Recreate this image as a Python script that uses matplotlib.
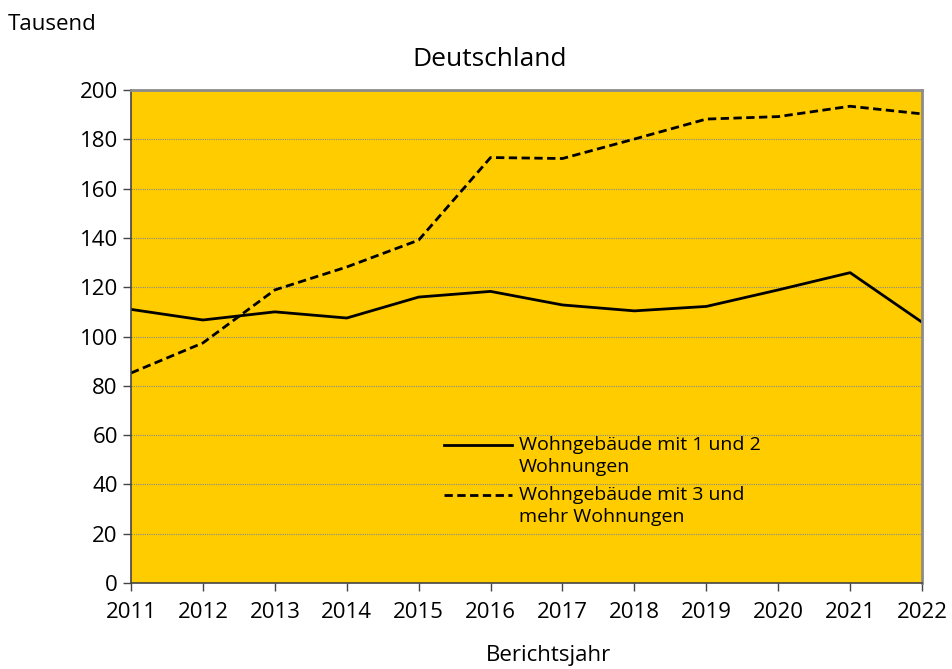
import matplotlib
matplotlib.use("Agg")
import matplotlib.pyplot as plt
from matplotlib.lines import Line2D

plt.rcParams["font.family"] = ["Open Sans", "DejaVu Sans"]

years = [2011, 2012, 2013, 2014, 2015, 2016, 2017, 2018, 2019, 2020, 2021, 2022]
ein_zwei = [111, 106.7, 110, 107.5, 116, 118.3, 112.8, 110.4, 112.2, 118.9, 125.9, 105.8]
drei_mehr = [85.2, 97.4, 118.9, 128.2, 139.1, 172.6, 172.2, 180.1, 188.2, 189.2, 193.4, 190.3]
labels = ["Wohngebäude mit 1 und 2\nWohnungen", "Wohngebäude mit 3 und\nmehr Wohnungen"]

dash = (0, (3, 1.6))

fig = plt.figure(figsize=(9.53, 6.69), dpi=100)
fig.patch.set_facecolor("white")
ax = fig.add_axes([0.1375, 0.1285, 0.83, 0.737])
ax.set_facecolor("#FFCC00")

ax.plot(years, ein_zwei, color="black", linewidth=2, label=labels[0])
ax.plot(years, drei_mehr, color="black", linewidth=2, linestyle=dash, label=labels[1])

ax.set_xlim(2011, 2022)
ax.set_ylim(0, 200)
ax.set_xticks(years)
ax.set_yticks(range(0, 201, 20))
ax.yaxis.grid(True, color="#8a8a8a", linestyle=(0, (1, 1)), linewidth=0.8)
ax.set_axisbelow(True)

for s in ["top", "right"]:
    ax.spines[s].set_color("#8c8c8c")
    ax.spines[s].set_linewidth(2)
for s in ["left", "bottom"]:
    ax.spines[s].set_color("#444444")
    ax.spines[s].set_linewidth(1.2)

ax.tick_params(axis="both", labelsize=16, colors="black", length=6, width=1,
               color="#444444", direction="out")
ax.tick_params(axis="x", pad=8)

# legend drawn by hand so the key lines up with the first text line
for i, (lab, ls) in enumerate(zip(labels, ["-", dash])):
    y = (669 - 445 - i * 50) / 669
    fig.add_artist(Line2D([444 / 953, 512 / 953], [y, y], color="black",
                          linewidth=2, linestyle=ls))
    fig.text(519 / 953, y + 9 / 669, lab, fontsize=14, va="top", ha="left",
             linespacing=1.32)

fig.text(8 / 953, 1 - 25 / 669, "Tausend", fontsize=16, va="center", ha="left")
fig.text(490 / 953, 1 - 59 / 669, "Deutschland", fontsize=19, va="center", ha="center")
fig.text(549 / 953, 1 - 656 / 669, "Berichtsjahr", fontsize=16, va="center", ha="center")

fig.savefig("out.png", dpi=100)
